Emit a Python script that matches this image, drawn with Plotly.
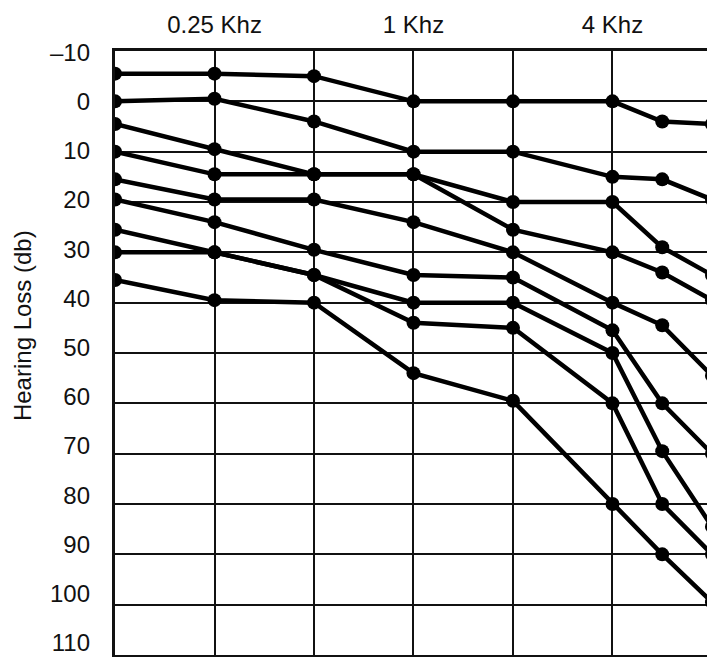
import plotly.graph_objects as go

# Audiogram columns: frequency (kHz) and its column on the chart
# (standard audiogram layout: octave columns, 6 kHz drawn mid-octave)
freqs_khz = [0.125, 0.25, 0.5, 1, 2, 4, 6, 8]
col_pos = [0, 1, 2, 3, 4, 5, 5.5, 6]

# Hearing loss (dB) for each audiogram curve
s1 = [-5.5, -5.5, -5, 0, 0, 0, 4, 4.5]
s2 = [0, -0.5, 4, 10, 10, 15, 15.5, 19.5]
s3 = [4.5, 9.5, 14.5, 14.5, 20, 20, 29, 34.5]
s4 = [10, 14.5, 14.5, 14.5, 25.5, 30, 34, 39.5]
s5 = [15.5, 19.5, 19.5, 24, 30, 40, 44.5, 54.5]
s6 = [19.5, 24, 29.5, 34.5, 35, 45.5, 60, 70]
s7 = [25.5, 30, 34.5, 40, 40, 50, 69.5, 84.5]
s8 = [30, 30, 34.5, 44, 45, 60, 80, 90]
s9 = [35.5, 39.5, 40, 54, 59.5, 80, 90, 99.5]
series = [s1, s2, s3, s4, s5, s6, s7, s8, s9]

# Axis ticks
x_tickvals = [0, 1, 2, 3, 4, 5, 6]
x_ticktext = ["", "0.25 Khz", "", "1 Khz", "", "4 Khz", ""]
y_tickvals = [-10, 0, 10, 20, 30, 40, 50, 60, 70, 80, 90, 100, 110]
y_ticktext = ["\u201310", "0", "10", "20", "30", "40", "50", "60", "70", "80", "90", "100", "110"]

FONT = "Liberation Sans, Arial, sans-serif"
INK = "#111111"

fig = go.Figure()
for s in series:
    fig.add_trace(go.Scatter(
        x=col_pos, y=s, mode="lines+markers",
        line=dict(color="black", width=4.5),
        marker=dict(color="black", size=14),
        cliponaxis=True, showlegend=False,
        customdata=freqs_khz,
        hovertemplate="%{customdata} kHz: %{y} dB<extra></extra>",
    ))

# invisible trace on the label axis so it is rendered
fig.add_trace(go.Scatter(x=[0], y=[0], yaxis="y2", mode="markers",
                         marker=dict(opacity=0), showlegend=False, hoverinfo="skip"))

fig.update_layout(
    width=707, height=657,
    margin=dict(l=115, r=0, t=51, b=2),
    paper_bgcolor="white", plot_bgcolor="white",
    font=dict(family=FONT, size=24, color=INK),
    xaxis=dict(
        range=[0, 5.95], side="top",
        tickvals=x_tickvals, ticktext=x_ticktext,
        showgrid=True, gridcolor=INK, gridwidth=2,
        showline=True, linecolor=INK, linewidth=2.5, mirror=True,
        ticks="", ticklabelstandoff=6, zeroline=False,
        tickfont=dict(size=24, color=INK),
    ),
    yaxis=dict(
        range=[110, -10],
        tickvals=y_tickvals, showticklabels=False,
        showgrid=True, gridcolor=INK, gridwidth=2,
        showline=True, linecolor=INK, linewidth=2.5,
        ticks="", zeroline=False,
    ),
    yaxis2=dict(
        overlaying="y", side="left",
        range=[112.44, -10.26],
        tickvals=y_tickvals, ticktext=y_ticktext,
        showgrid=False, showline=False, zeroline=False,
        ticks="", ticklabelstandoff=24,
        tickfont=dict(size=24, color=INK),
    ),
    annotations=[dict(
        text="Hearing Loss (db)", textangle=-90,
        xref="paper", yref="paper", x=-0.155, y=0.545,
        xanchor="center", yanchor="middle", showarrow=False,
        font=dict(size=24, color=INK, family=FONT),
    )],
)

fig.write_html(
    "out.html",
    config={"displayModeBar": False},
    post_script="document.body.style.margin='0';document.body.style.overflow='hidden';",
)
